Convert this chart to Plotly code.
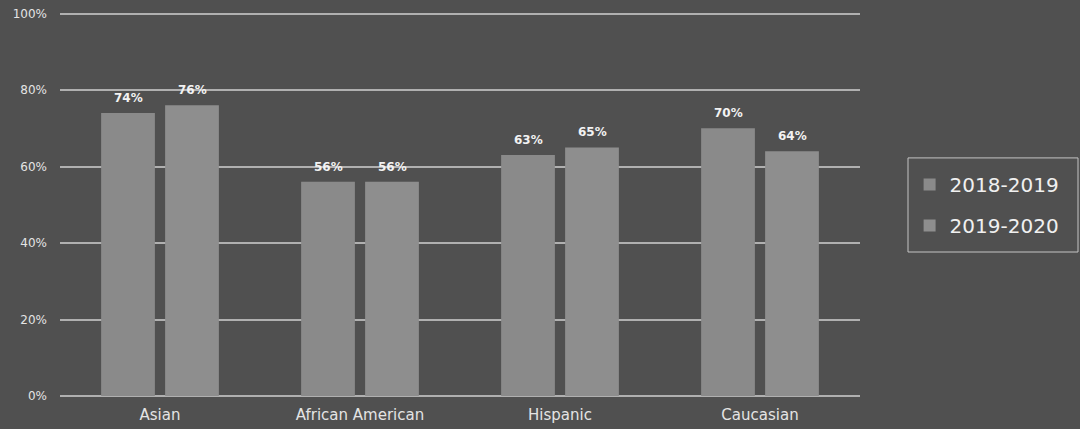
import plotly.graph_objects as go

# Share of students by group, two school years
categories = ["Asian", "African American", "Hispanic", "Caucasian"]
year_2018_2019 = [74, 56, 63, 70]
year_2019_2020 = [76, 56, 65, 64]
y_ticks = [0, 20, 40, 60, 80, 100]
y_tick_labels = ["0%", "20%", "40%", "60%", "80%", "100%"]

BG = "#505050"
GRID = "#b0b0b0"
TEXT = "#e4e4e4"
FONT = "DejaVu Sans"

BARGAP = 0.36
PLOT_W = 800
slot_px = PLOT_W / len(categories) * (1 - BARGAP) / 2

fig = go.Figure()
series = [
    ("2018-2019", year_2018_2019, "#8a8a8a", -0.5),
    ("2019-2020", year_2019_2020, "#8e8e8e", 0.5),
]
for name, vals, color, side in series:
    fig.add_bar(
        name=name, x=categories, y=vals, legendgroup=name,
        marker=dict(color=color, line=dict(width=0)),
    )
    # value labels above each bar
    for cat, v in zip(categories, vals):
        fig.add_annotation(
            x=cat, y=v, text=f"{v}%", showarrow=False,
            xshift=side * slot_px, yshift=6, yanchor="bottom",
            font=dict(color="#f2f2f2", size=12, family=FONT, weight="bold"),
        )

# frame around the legend
fig.add_shape(
    type="rect", xref="paper", yref="paper",
    x0=1.06, x1=1.2725, y0=0.375, y1=0.62,
    line=dict(color="#c4c4c4", width=1), fillcolor="rgba(0,0,0,0)",
)

fig.update_layout(
    width=1080, height=429,
    paper_bgcolor=BG, plot_bgcolor=BG,
    margin=dict(l=60, r=220, t=12, b=33, autoexpand=False),
    barmode="group", bargap=BARGAP, bargroupgap=0.16,
    font=dict(family=FONT, color=TEXT),
    showlegend=True,
    legend=dict(
        x=1.062, y=0.4975, xanchor="left", yanchor="middle",
        borderwidth=0, bgcolor="rgba(0,0,0,0)",
        font=dict(size=20, color="#f0f0f0", family=FONT),
        traceorder="grouped", tracegroupgap=12, itemwidth=30,
    ),
)
fig.update_xaxes(
    showgrid=False, showline=False, ticks="", ticklabelstandoff=8,
    automargin=False,
    tickfont=dict(size=15, color=TEXT, family=FONT),
)
fig.update_yaxes(
    range=[0, 100.4], tickvals=y_ticks, ticktext=y_tick_labels,
    showgrid=True, gridcolor=GRID, gridwidth=2,
    zeroline=True, zerolinecolor=GRID, zerolinewidth=2,
    showline=False, ticks="", ticklabelstandoff=12, automargin=False,
    tickfont=dict(size=12, color=TEXT, family=FONT),
)

fig.write_html("out.html")
